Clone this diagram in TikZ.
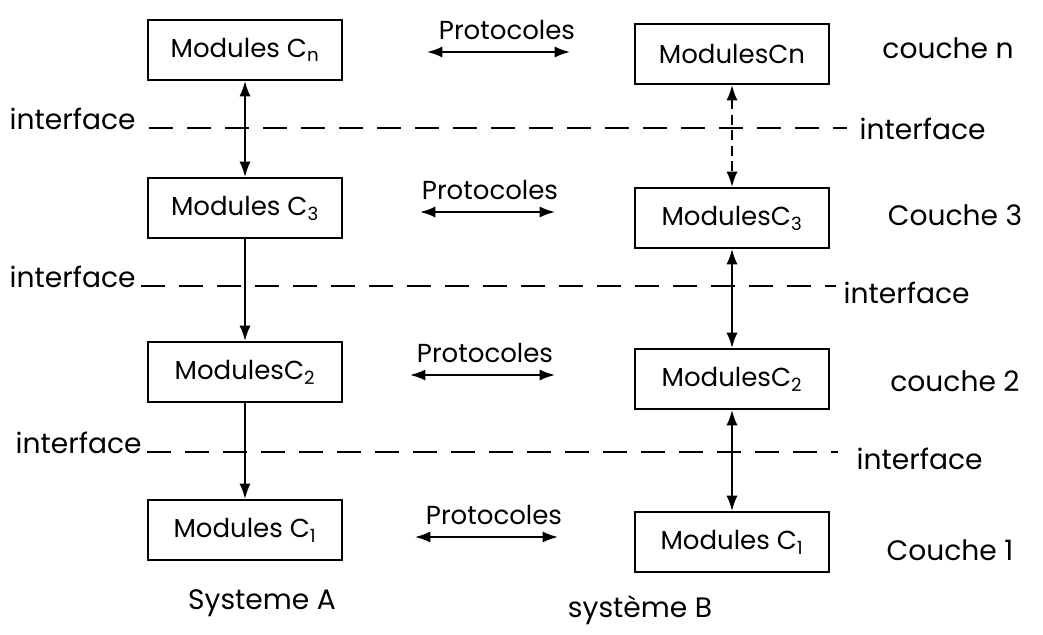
\documentclass[tikz,border=0pt]{standalone}
\usepackage{fontspec}
\setmainfont{Poppins}
\usetikzlibrary{arrows.meta, positioning}
\tikzset{
  font=\fontsize{18.5}{22}\selectfont,     % hand-lettered look, big text
  modbox/.style    = {rectangle, draw, line width=1.4pt,
                      minimum width=4.85cm, minimum height=1.5cm, inner sep=2pt},
  proto/.style     = {<->, >={Latex[length=11pt, width=8pt]}, line width=1.4pt},
  updown/.style    = {<->, >={Latex[length=11pt, width=8pt]}, line width=1.4pt},
  godown/.style    = {->, >={Latex[length=11pt, width=8pt]}, line width=1.4pt},
  iface/.style     = {dash pattern=on 17pt off 10pt, line width=1.5pt},
  lbl/.style       = {inner sep=1pt},
  sidelbl/.style   = {inner sep=1pt, font=\fontsize{20}{24}\selectfont}
}
\begin{document}
\begin{tikzpicture}[x=0.025cm, y=-0.025cm]
  \useasboundingbox (0,0) rectangle (1043,635);
  % systeme A
  \node[modbox] (An) at (245,50)  {Modules C\textsubscript{n}};
  \node[modbox] (A3) at (245,208) {Modules C\textsubscript{3}};
  \node[modbox] (A2) at (245,372) {ModulesC\textsubscript{2}};
  \node[modbox] (A1) at (245,530) {Modules C\textsubscript{1}};
  % systeme B
  \node[modbox] (Bn) at (732,54)  {ModulesCn};
  \node[modbox] (B3) at (732,218) {ModulesC\textsubscript{3}};
  \node[modbox] (B2) at (732,379) {ModulesC\textsubscript{2}};
  \node[modbox] (B1) at (732,542) {Modules C\textsubscript{1}};
  % links between layers
  \draw[updown] (An) -- (A3);
  \draw[godown] (A3) -- (A2);
  \draw[godown] (A2) -- (A1);
  \draw[updown, dash pattern=on 7pt off 4pt] (Bn) -- (B3);
  \draw[updown] (B3) -- (B2);
  \draw[updown] (B2) -- (B1);
  % protocoles
  \coordinate (p1l) at (427,52);  \coordinate (p1r) at (570,52);
  \coordinate (p3l) at (420,212); \coordinate (p3r) at (555,212);
  \coordinate (p2l) at (410,375); \coordinate (p2r) at (555,375);
  \coordinate (p0l) at (415,537); \coordinate (p0r) at (558,537);
  \draw[proto] (p1l) -- (p1r);
  \draw[proto] (p3l) -- (p3r);
  \draw[proto] (p2l) -- (p2r);
  \draw[proto] (p0l) -- (p0r);
  \node[lbl] (t1) at (507,30)  {Protocoles};
  \node[lbl] (t3) at (490,190) {Protocoles};
  \node[lbl] (t2) at (485,353) {Protocoles};
  \node[lbl] (t0) at (494,515) {Protocoles};
  % interfaces
  \node[sidelbl, anchor=west] (il1) at (8,119)   {interface};
  \node[sidelbl, anchor=west] (ir1) at (858,129) {interface};
  \node[sidelbl, anchor=west] (il2) at (8,277)   {interface};
  \node[sidelbl, anchor=west] (ir2) at (842,293) {interface};
  \node[sidelbl, anchor=west] (il3) at (14,443)  {interface};
  \node[sidelbl, anchor=west] (ir3) at (855,459) {interface};
  \draw[iface] (il1.base east) ++(12,-2) coordinate (i1) -- ([xshift=-8]i1 -| ir1.west);
  \draw[iface] (il2.base east) ++(4,-2) coordinate (i2)  -- ([xshift=-4]i2 -| ir2.west);
  \draw[iface] (il3.base east) ++(4,-2) coordinate (i3)  -- ([xshift=-12]i3 -| ir3.west);
  % couches
  \node[sidelbl] (cn) at (948,48)  {couche n};
  \node[sidelbl] (c3) at (955,215) {Couche 3};
  \node[sidelbl] (c2) at (955,381) {couche 2};
  \node[sidelbl] (c1) at (950,550) {Couche 1};
  % systemes
  \node[sidelbl] (sA) at (262,603) {Systeme A};
  \node[sidelbl] (sB) at (640,610) {système B};
\end{tikzpicture}
\end{document}
